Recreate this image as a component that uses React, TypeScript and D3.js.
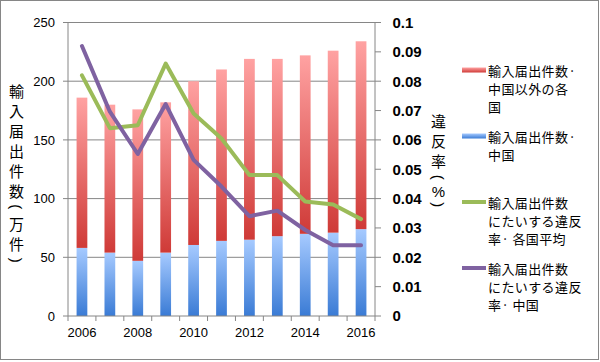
import React from "react";
import * as d3 from "d3";

// 年 (x axis categories)
const years = [2006, 2007, 2008, 2009, 2010, 2011, 2012, 2013, 2014, 2015, 2016];
// 輸入届出件数 (万件)
const chinaCounts = [58, 54, 47, 54, 60.5, 64, 65, 68, 70, 71, 74];
const otherCounts = [128, 126, 129, 128, 139.5, 146, 154, 151, 152, 155, 160];
// 違反率
const avgRate = [0.082, 0.064, 0.065, 0.086, 0.069, 0.0605, 0.048, 0.048, 0.039, 0.038, 0.033];
const chinaRate = [0.092, 0.0696, 0.0552, 0.0722, 0.0532, 0.0441, 0.034, 0.0359, 0.0293, 0.0241, 0.0241];

const leftTicks = [0, 50, 100, 150, 200, 250];
const rightTicks = [0, 0.01, 0.02, 0.03, 0.04, 0.05, 0.06, 0.07, 0.08, 0.09, 0.1];
const xLabelYears = [2006, 2008, 2010, 2012, 2014, 2016];

const leftTitle = ["輸", "入", "届", "出", "件", "数", "(", "万", "件", ")"];
const rightTitle = ["違", "反", "率", "(", "%", ")"];

const legendItems = [
  { key: "other", lines: ["輸入届出件数·", "中国以外の各", "国"] },
  { key: "china", lines: ["輸入届出件数·", "中国"] },
  { key: "avgRate", lines: ["輸入届出件数", "にたいする違反", "率· 各国平均"] },
  { key: "chinaRate", lines: ["輸入届出件数", "にたいする違反", "率· 中国"] },
];

const W = 600;
const H = 362;
const plot = { left: 68, right: 375, top: 22.5, bottom: 316 };
const gray = "#868686";
const green = "#9bbb59";
const purple = "#7f62a1";
const cjk = "'Noto Sans CJK JP', sans-serif";
const latin = "'Liberation Sans', Arial, sans-serif";

// stack a column of glyphs vertically; parens are turned sideways
function VerticalTitle({ chars, cx, top }: { chars: string[]; cx: number; top: number }) {
  let y = top;
  const items: { c: string; y: number }[] = [];
  chars.forEach((c) => {
    const adv = c === "(" || c === ")" ? 13.5 : c === "%" ? 14 : 20;
    items.push({ c, y: y + adv / 2 });
    y += adv;
  });
  return (
    <g>
      {items.map((d, i) =>
        d.c === "(" || d.c === ")" ? (
          <text
            key={i}
            transform={`translate(${cx},${d.y}) rotate(90)`}
            textAnchor="middle"
            dominantBaseline="central"
            fontFamily={latin}
            fontSize={15}
          >
            {d.c}
          </text>
        ) : (
          <text
            key={i}
            x={cx}
            y={d.y}
            textAnchor="middle"
            dominantBaseline="central"
            fontFamily={d.c === "%" ? latin : cjk}
            fontSize={15}
          >
            {d.c}
          </text>
        )
      )}
    </g>
  );
}

export default function App() {
  const x = d3
    .scaleBand<number>()
    .domain(years)
    .range([plot.left, plot.right])
    .padding(0);
  const yL = d3.scaleLinear().domain([0, 250]).range([plot.bottom, plot.top]);
  const yR = d3.scaleLinear().domain([0, 0.1]).range([plot.bottom, plot.top]);

  const bw = x.bandwidth() * 0.385;
  const cx = (yr: number) => (x(yr) as number) + x.bandwidth() / 2;

  const rateLine = d3
    .line<number>()
    .x((_, i) => cx(years[i]))
    .y((d) => yR(d));

  const boundaries = [...years.map((yr) => x(yr) as number), plot.right];

  return (
    <>
      <style>{`body{margin:0}`}</style>
      <svg width={W} height={H} style={{ display: "block" }}>
        <defs>
          <linearGradient id="gRed" x1="0" y1="0" x2="0" y2="1">
            <stop offset="0" stopColor="#ffa2a2" />
            <stop offset="1" stopColor="#cf3a37" />
          </linearGradient>
          <linearGradient id="gBlue" x1="0" y1="0" x2="0" y2="1">
            <stop offset="0" stopColor="#a6caff" />
            <stop offset="1" stopColor="#3a7bd5" />
          </linearGradient>
        </defs>
        <rect x={0.5} y={0.5} width={598} height={359} fill="#fff" stroke={gray} />

        {/* gridlines */}
        {leftTicks
          .filter((t) => t > 0)
          .map((t) => (
            <line key={t} x1={plot.left} x2={plot.right} y1={yL(t)} y2={yL(t)} stroke={gray} />
          ))}

        {/* stacked bars */}
        {years.map((yr, i) => (
          <g key={yr}>
            <rect
              x={cx(yr) - bw / 2}
              width={bw}
              y={yL(chinaCounts[i])}
              height={yL(0) - yL(chinaCounts[i])}
              fill="url(#gBlue)"
            />
            <rect
              x={cx(yr) - bw / 2}
              width={bw}
              y={yL(chinaCounts[i] + otherCounts[i])}
              height={yL(chinaCounts[i]) - yL(chinaCounts[i] + otherCounts[i])}
              fill="url(#gRed)"
            />
          </g>
        ))}

        {/* axes */}
        <line x1={plot.left} x2={plot.left} y1={plot.top} y2={plot.bottom} stroke={gray} />
        <line x1={plot.right} x2={plot.right} y1={plot.top} y2={plot.bottom} stroke={gray} />
        <line x1={plot.left} x2={plot.right} y1={plot.bottom} y2={plot.bottom} stroke={gray} />
        {boundaries.map((bx, i) => (
          <line key={i} x1={bx} x2={bx} y1={plot.bottom} y2={plot.bottom + 5} stroke={gray} />
        ))}
        {leftTicks.map((t) => (
          <g key={t}>
            <line x1={plot.left - 5} x2={plot.left} y1={yL(t)} y2={yL(t)} stroke={gray} />
            <text
              x={55}
              y={yL(t)}
              dy="0.36em"
              textAnchor="end"
              fontFamily={latin}
              fontSize={13}
            >
              {t}
            </text>
          </g>
        ))}
        {rightTicks.map((t) => (
          <g key={t}>
            <line x1={plot.right} x2={plot.right + 6} y1={yR(t)} y2={yR(t)} stroke={gray} />
            <text
              x={392.5}
              y={yR(t)}
              dy="0.36em"
              fontFamily={latin}
              fontWeight="bold"
              fontSize={15}
            >
              {d3.format("~g")(t)}
            </text>
          </g>
        ))}
        {xLabelYears.map((yr) => (
          <text
            key={yr}
            x={cx(yr)}
            y={337}
            textAnchor="middle"
            fontFamily={latin}
            fontSize={13}
          >
            {yr}
          </text>
        ))}

        {/* rate lines */}
        <path
          d={rateLine(avgRate) || ""}
          fill="none"
          stroke={green}
          strokeWidth={4}
          strokeLinejoin="round"
          strokeLinecap="round"
        />
        <path
          d={rateLine(chinaRate) || ""}
          fill="none"
          stroke={purple}
          strokeWidth={4}
          strokeLinejoin="round"
          strokeLinecap="round"
        />

        {/* axis titles */}
        <VerticalTitle chars={leftTitle} cx={16.5} top={80} />
        <VerticalTitle chars={rightTitle} cx={438.5} top={110.5} />

        {/* legend */}
        {legendItems.map((item, k) => {
          const tops = [70, 136, 202, 268];
          const y0 = tops[k];
          return (
            <g key={item.key}>
              {item.key === "other" || item.key === "china" ? (
                <rect
                  x={462}
                  y={y0 - 2.5}
                  width={24}
                  height={5}
                  fill={item.key === "other" ? "url(#gRed)" : "url(#gBlue)"}
                />
              ) : (
                <line
                  x1={462}
                  x2={486}
                  y1={y0}
                  y2={y0}
                  stroke={item.key === "avgRate" ? green : purple}
                  strokeWidth={4}
                />
              )}
              {item.lines.map((ln, j) => (
                <text
                  key={j}
                  x={488}
                  y={y0 + j * 18}
                  dominantBaseline="central"
                  fontFamily={cjk}
                  fontSize={13}
                  letterSpacing={0.4}
                >
                  {ln}
                </text>
              ))}
            </g>
          );
        })}
      </svg>
    </>
  );
}
